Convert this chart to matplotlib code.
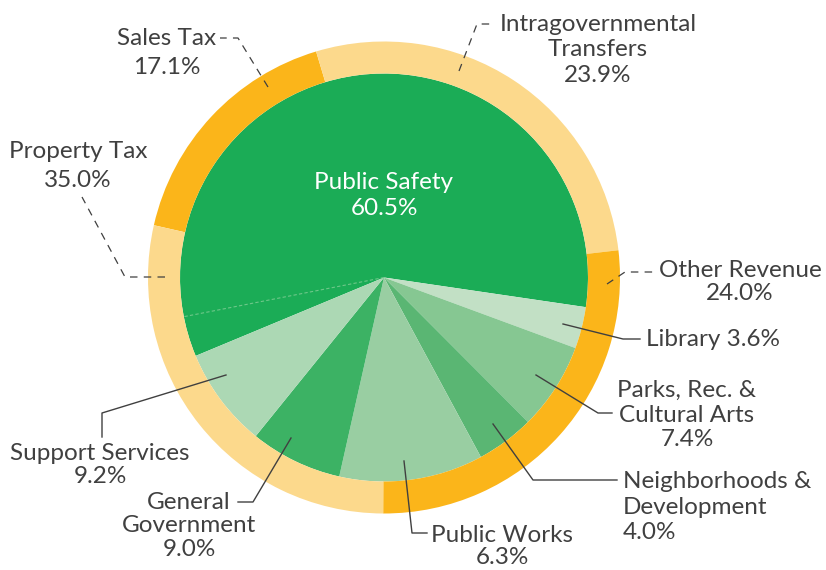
import matplotlib.pyplot as plt
import numpy as np

# ---------------------------  Data  --------------------------- #
# inner pie: expenditures (slice shares as drawn, label text as printed)
exp_names = ['Public Safety', 'Library', 'Parks, Rec. &\nCultural Arts',
             'Neighborhoods &\nDevelopment', 'Public Works',
             'General\nGovernment', 'Support Services']
exp_share = [58.6, 3.3, 6.9, 4.6, 11.4, 7.3, 7.9]
exp_pct = ['60.5%', '3.6%', '7.4%', '4.0%', '6.3%', '9.0%', '9.2%']
exp_colors = ['#1BAC56', '#C2E0C5', '#86C792', '#5AB673', '#99CEA2',
              '#3CB264', '#ACD8B4']

# outer ring: revenues
rev_names = ['Sales Tax', 'Intragovernmental\nTransfers', 'Other Revenue',
             'Property Tax']
rev_share = [16.8, 27.8, 26.9, 28.5]
rev_pct = ['17.1%', '23.9%', '24.0%', '35.0%']
rev_colors = ['#FBB51A', '#FCD98C', '#FBB51A', '#FCD98C']

# ---------------------------  Layout  --------------------------- #
W, H = 826, 570
cx, cy = 384, H - 277.5
r_in, r_out = 204, 236
txt = '#404040'
plt.rcParams['font.family'] = ['Lato', 'DejaVu Sans']
fs = 17.5


def Y(y):
    return H - y


fig = plt.figure(figsize=(W / 100, H / 100), dpi=100)
ax = fig.add_axes([0, 0, 1, 1])

ax.pie(exp_share, colors=exp_colors, startangle=202.6, counterclock=False,
       radius=r_in, center=(cx, cy), wedgeprops=dict(linewidth=0))
ax.pie(rev_share, colors=rev_colors, startangle=167.2, counterclock=False,
       radius=r_out, center=(cx, cy),
       wedgeprops=dict(width=r_out - r_in, linewidth=0))

# faint hairline inside the Public Safety slice
a = np.deg2rad(202.6 - 3.2 / 100 * 360)
ax.plot([cx, cx + r_in * np.cos(a)], [cy, cy + r_in * np.sin(a)],
        color='#6DC789', lw=0.8, dashes=(3, 2))

ax.set_xlim(0, W)
ax.set_ylim(0, H)
ax.set_aspect('equal')
ax.axis('off')

# -----------------------  Labels  ----------------------- #
ax.text(cx, Y(195.5), exp_names[0] + '\n' + exp_pct[0], color='white',
        fontsize=fs, ha='center', va='center', linespacing=1.3)

# (text, x, y, ha, linespacing)
exp_lab = [
    (exp_names[1] + ' ' + exp_pct[1], 646, 340, 'left', 1.2),
    (exp_names[2] + '\n' + exp_pct[2], 687, 415, 'center', 1.2),
    (exp_names[3] + '\n' + exp_pct[3], 623, 507, 'left', 1.27),
    (exp_names[4] + '\n' + exp_pct[4], 502, 546.5, 'center', 1.1),
    (exp_names[5] + '\n' + exp_pct[5], 189, 526, 'center', 1.15),
    (exp_names[6] + '\n' + exp_pct[6], 100, 465, 'center', 1.15),
]
for t, x, y, ha, ls in exp_lab:
    ax.text(x, Y(y), t, color=txt, fontsize=fs, ha=ha, va='center',
            multialignment=ha, linespacing=ls)

rev_lab = [
    (167, 53, 1.44), (598, 50, 1.25), (740, 282, 1.1), (78, 166, 1.44),
]
for name, pct, (x, y, ls) in zip(rev_names, rev_pct, rev_lab):
    ax.text(x, Y(y), name + '\n' + pct, color=txt, fontsize=fs,
            ha='center', va='center', linespacing=ls)

# solid leader lines for expenditures
solid = [
    [(563, 324), (623, 339), (640, 339)],
    [(536, 375), (598, 413), (612, 413)],
    [(493, 424), (533, 480), (617, 480)],
    [(404, 461), (412, 533), (427, 533)],
    [(291, 438), (253, 502), (238, 502)],
    [(226, 375), (102, 413), (102, 437)],
]
for pts in solid:
    xs, ys = zip(*pts)
    ax.plot(xs, [Y(v) for v in ys], color=txt, lw=1)

# dashed leader lines for revenues
dashed = [
    [(268, 87), (238, 38), (220, 38)],
    [(459, 71), (477, 24), (493, 24)],
    [(165, 277), (125, 277), (82, 197)],
    [(607, 284), (625, 272), (657, 272)],
]
for pts in dashed:
    xs, ys = zip(*pts)
    ax.plot(xs, [Y(v) for v in ys], color=txt, lw=0.9, dashes=(6, 5))

fig.savefig('out.png', dpi=100)
